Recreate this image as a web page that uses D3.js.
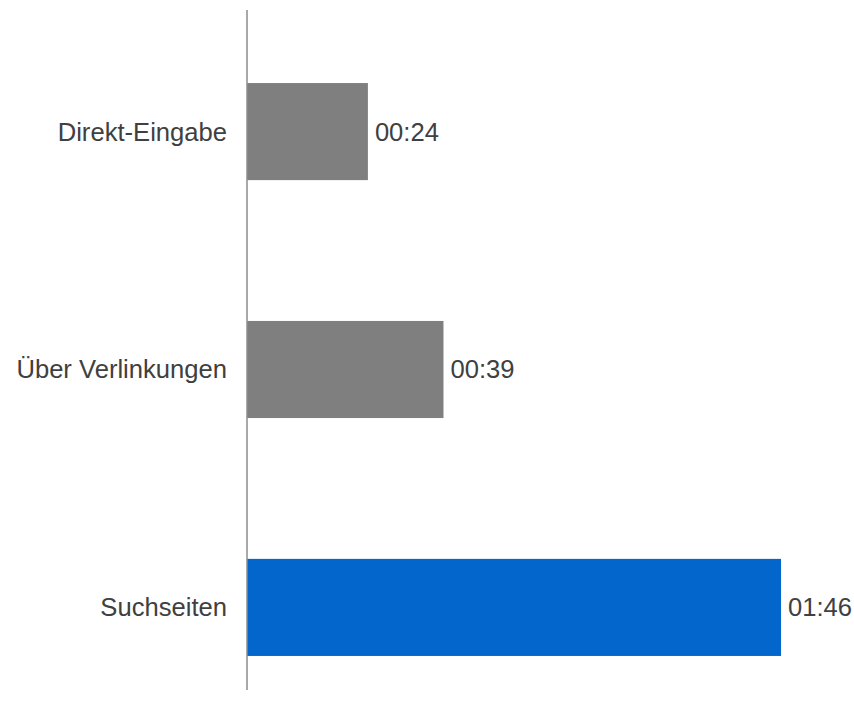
<!DOCTYPE html>
<html><head><meta charset="utf-8">
<script src="https://cdn.jsdelivr.net/npm/d3@7"></script>
<style>html,body{margin:0;padding:0;background:#fff;} text{font-family:"Liberation Sans", Arial, sans-serif;}</style>
</head><body>
<svg id="chart" width="854" height="719"></svg>
<script>
const categories = ["Direkt-Eingabe", "Über Verlinkungen", "Suchseiten"];
const seconds = [24, 39, 106];
const colors = ["#7f7f7f", "#7f7f7f", "#0366cc"];

function fmt(s){ const m=Math.floor(s/60), r=s%60; return String(m).padStart(2,"0")+":"+String(r).padStart(2,"0"); }

const svg = d3.select("#chart");
const x = d3.scaleLinear().domain([0, 106]).range([247, 781]);
const y = d3.scaleBand().domain(categories).range([10, 729]).paddingInner(0.592).paddingOuter(0.307);

svg.selectAll("rect.bar").data(categories).join("rect")
  .attr("class","bar")
  .attr("x", x(0))
  .attr("y", d => y(d))
  .attr("width", (d,i) => x(seconds[i]) - x(0))
  .attr("height", y.bandwidth())
  .attr("fill", (d,i) => colors[i]);

svg.append("line").attr("x1", x(0)).attr("x2", x(0)).attr("y1", 10).attr("y2", 690)
  .attr("stroke", "#8c8c8c").attr("stroke-width", 1.5);

svg.selectAll("text.cat").data(categories).join("text")
  .attr("class","cat")
  .attr("x", 227)
  .attr("y", d => y(d) + y.bandwidth()/2)
  .attr("dy", "0.35em")
  .attr("text-anchor", "end")
  .attr("font-size", 25.6)
  .attr("fill", "#404040")
  .text(d => d);

svg.selectAll("text.val").data(categories).join("text")
  .attr("class","val")
  .attr("x", (d,i) => x(seconds[i]) + 7)
  .attr("y", d => y(d) + y.bandwidth()/2)
  .attr("dy", "0.35em")
  .attr("font-size", 25.6)
  .attr("fill", "#404040")
  .text((d,i) => fmt(seconds[i]));
</script>
</body></html>
